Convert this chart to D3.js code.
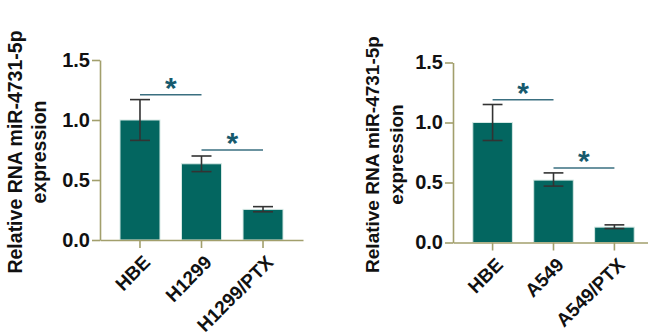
<!DOCTYPE html>
<html>
<head>
<meta charset="utf-8">
<script src="https://cdn.jsdelivr.net/npm/d3@7"></script>
<style>
  body { margin: 0; background: #fff; }
  svg { display: block; }
  text { font-family: "Liberation Sans", Arial, sans-serif; font-weight: bold; }
</style>
</head>
<body>
<div id="chart"></div>
<script>
// panel 1 data
var cats1 = ["HBE", "H1299", "H1299/PTX"];
var means1 = [1.0, 0.635, 0.255];
var lows1 = [0.83, 0.57, 0.235];
var highs1 = [1.17, 0.70, 0.278];
var sig1 = [[0, 1, 1.21], [1, 2, 0.75]];

// panel 2 data
var cats2 = ["HBE", "A549", "A549/PTX"];
var means2 = [1.0, 0.52, 0.128];
var lows2 = [0.85, 0.47, 0.116];
var highs2 = [1.15, 0.58, 0.147];
var sig2 = [[0, 1, 1.19], [1, 2, 0.62]];

var yTicks = [0, 0.5, 1.0, 1.5];
var yLabel1 = "Relative RNA miR-4731-5p";
var yLabel2 = "expression";

var axisColor = "#a29f6c";
var barColor = "#036660";
var sigColor = "#3a6f80";
var starColor = "#175a6e";

var svg = d3.select("#chart").append("svg")
  .attr("width", 648)
  .attr("height", 336);

/**
 * draw one bar chart panel
 */
function drawPanel(opt) {
  var g = svg.append("g");

  var y = d3.scaleLinear().domain([0, 1.5]).range([opt.y0, opt.y1]);
  var x = d3.scaleBand().domain(opt.cats).range([opt.x0, opt.x1])
    .paddingInner(0.35).paddingOuter(0.325);

  var data = opt.cats.map((c, i) => ({c: c, m: opt.means[i], lo: opt.lows[i], hi: opt.highs[i]}));

  // bars
  g.selectAll("rect.bar").data(data).enter().append("rect")
    .attr("class", "bar")
    .attr("x", d => x(d.c))
    .attr("width", x.bandwidth())
    .attr("y", d => y(d.m))
    .attr("height", d => y(0) - y(d.m))
    .attr("fill", barColor)
    .attr("stroke", "#d5e8e4")
    .attr("stroke-width", 1);

  // error bars
  var eb = g.selectAll("g.err").data(data).enter().append("g")
    .attr("stroke", "#333")
    .attr("stroke-width", 1.6);
  var cx = d => x(d.c) + x.bandwidth() / 2;
  var cap = x.bandwidth() / 4;
  eb.append("line").attr("x1", cx).attr("x2", cx).attr("y1", d => y(d.lo)).attr("y2", d => y(d.hi));
  eb.append("line").attr("x1", d => cx(d) - cap).attr("x2", d => cx(d) + cap).attr("y1", d => y(d.hi)).attr("y2", d => y(d.hi));
  eb.append("line").attr("x1", d => cx(d) - cap).attr("x2", d => cx(d) + cap).attr("y1", d => y(d.lo)).attr("y2", d => y(d.lo));

  // y axis
  var yAxis = g.append("g")
    .attr("transform", `translate(${opt.x0},0)`)
    .call(d3.axisLeft(y).tickValues(yTicks).tickFormat(d3.format(".1f")).tickSize(8).tickSizeOuter(0));
  // x axis
  var xAxis = g.append("g")
    .attr("transform", `translate(0,${opt.y0})`)
    .call(d3.axisBottom(x).tickSize(8).tickSizeOuter(0));
  [yAxis, xAxis].forEach(a => {
    a.select(".domain").attr("stroke", axisColor).attr("stroke-width", 1.6);
    a.selectAll(".tick line").attr("stroke", axisColor).attr("stroke-width", 1.6);
  });
  yAxis.selectAll(".tick text")
    .attr("fill", "#111")
    .attr("font-size", 20)
    .attr("x", -10);
  xAxis.selectAll(".tick text")
    .attr("fill", "#111")
    .attr("font-size", 19)
    .attr("text-anchor", "end")
    .attr("dy", null)
    .attr("dominant-baseline", "middle")
    .attr("transform", "translate(8,20) rotate(-45)")
    .attr("x", 0).attr("y", 0);

  // y label
  var lx = opt.x0 - opt.labelOffset;
  var ly = (opt.y0 + opt.y1) / 2 + 2;
  g.append("text")
    .attr("transform", `translate(${lx},${ly}) rotate(-90)`)
    .attr("text-anchor", "middle")
    .attr("font-size", opt.labelSize)
    .attr("fill", "#111")
    .text(yLabel1);
  g.append("text")
    .attr("transform", `translate(${lx + 24},${ly}) rotate(-90)`)
    .attr("text-anchor", "middle")
    .attr("font-size", opt.labelSize)
    .attr("fill", "#111")
    .text(yLabel2);

  // significance lines and stars
  opt.sig.forEach(s => {
    var xa = x(opt.cats[s[0]]) + x.bandwidth() / 2;
    var xb = x(opt.cats[s[1]]) + x.bandwidth() / 2;
    g.append("line")
      .attr("x1", xa).attr("x2", xb)
      .attr("y1", y(s[2])).attr("y2", y(s[2]))
      .attr("stroke", sigColor).attr("stroke-width", 1.5);
    g.append("text")
      .attr("x", (xa + xb) / 2)
      .attr("y", y(s[2]) + 3)
      .attr("text-anchor", "middle")
      .attr("font-size", 30)
      .attr("fill", starColor)
      .text("*");
  });
}

drawPanel({cats: cats1, means: means1, lows: lows1, highs: highs1, sig: sig1,
  x0: 100, x1: 303, y0: 240, y1: 60, labelOffset: 78, labelSize: 19.5});
drawPanel({cats: cats2, means: means2, lows: lows2, highs: highs2, sig: sig2,
  x0: 453, x1: 654, y0: 242.5, y1: 62.5, labelOffset: 74, labelSize: 19});
</script>
</body>
</html>
